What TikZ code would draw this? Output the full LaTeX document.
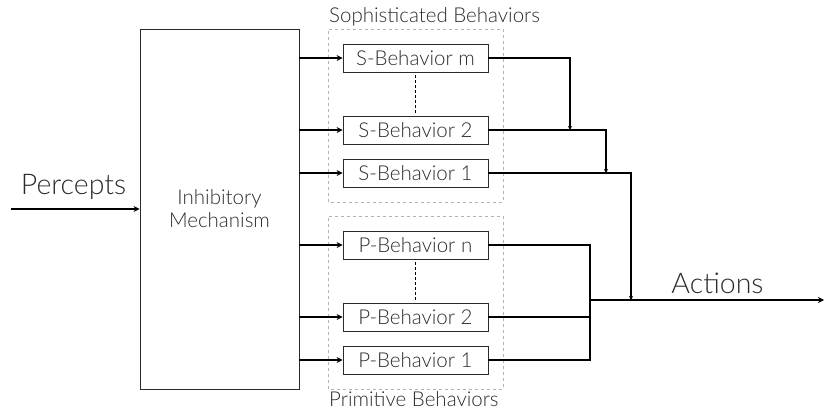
\documentclass[tikz,border=0pt]{standalone}
\usepackage{fontspec}
\setmainfont{Lato}[UprightFont={* Light}]
\usetikzlibrary{arrows.meta,decorations.markings}
\definecolor{txt}{HTML}{2B2B2B}
\tikzset{
  behavior/.style={draw=txt,line width=0.8pt,minimum width=145pt,minimum height=28pt,inner sep=0pt,
    font=\fontsize{20.5}{23}\selectfont,text=txt},
  group/.style={draw=gray!60,dashed,line width=0.8pt},
  wire/.style={line width=1.1pt},
  midtip/.style={postaction={decorate},decoration={markings,
    mark=at position 52pt with {\arrow{Stealth[length=4pt,width=4pt]}}}},
  bigtext/.style={font=\fontsize{28.5}{30}\selectfont,text=txt,inner sep=0pt},
  smalltext/.style={font=\fontsize{20.5}{23}\selectfont,text=txt,inner sep=0pt}
}
\begin{document}
\begin{tikzpicture}[x=1pt,y=1pt,>={Stealth[length=6pt,width=6pt]}]
      \useasboundingbox (0,0) rectangle (825,412);
      \draw[group] (328,210) rectangle (503,383);
      \draw[group] (328,23) rectangle (503,196);
      \node[smalltext,anchor=base west] (sophlabel) at (329,389) {Sophisticated Behaviors};
      \node[smalltext,anchor=base west] (primlabel) at (329,5) {Primitive Behaviors};
      \node[draw=txt,line width=0.8pt,minimum width=159pt,minimum height=360pt,inner sep=0pt,
        smalltext,align=center] (inhib) at (219.5,203) {Inhibitory\\Mechanism};
      \draw
        (415.5,354) node[behavior] (sm){S-Behavior m}
        (415.5,282) node[behavior] (s2){S-Behavior 2}
        (415.5,239) node[behavior] (s1){S-Behavior 1}
        (415.5,167) node[behavior] (pn){P-Behavior n}
        (415.5,95) node[behavior] (p2){P-Behavior 2}
        (415.5,52) node[behavior] (p1){P-Behavior 1};
      \coordinate (in) at (11,203);
      \coordinate (jm) at (570,282);
      \coordinate (js2) at (606,239);
      \coordinate (js1) at (631,112);
      \coordinate (merge) at (590,112);
      \coordinate (out) at (824,112);
      \node[bigtext,anchor=base] (percepts) at (73.5,217) {Percepts};
      \node[bigtext,anchor=base] (actions) at (717.5,118) {Actions};
      \begin{scope}[wire,->]
        \draw (in) to (inhib.west);
        \draw (inhib.east |- sm) to (sm.west);
        \draw (inhib.east |- s2) to (s2.west);
        \draw (inhib.east |- s1) to (s1.west);
        \draw (inhib.east |- pn) to (pn.west);
        \draw (inhib.east |- p2) to (p2.west);
        \draw (inhib.east |- p1) to (p1.west);
      \end{scope}
      \begin{scope}[wire,midtip,->,>={Stealth[length=4pt,width=4pt]}]
        \draw (sm.east) -| (jm);
        \draw (s2.east) -| (js2);
        \draw (s1.east) -| (js1);
      \end{scope}
      \begin{scope}[wire,midtip]
        \draw (pn.east) -| (merge);
        \draw (p1.east) -| (merge);
        \draw (p2.east) -- (p2.east -| merge);
      \end{scope}
      \draw[wire,->] (merge) to (out);
      \begin{scope}[line width=1pt,dash pattern=on 3pt off 2pt,shorten <=3pt,shorten >=3pt]
        \draw (sm.south) to (s2.north);
        \draw (pn.south) to (p2.north);
      \end{scope}
    \end{tikzpicture}
\end{document}
